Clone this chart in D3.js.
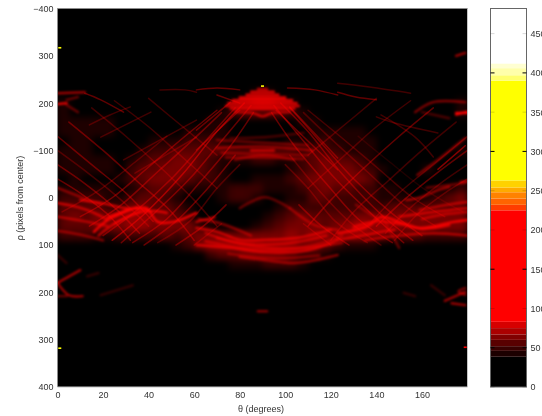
<!DOCTYPE html>
<html>
<head>
<meta charset="utf-8">
<script src="https://cdn.jsdelivr.net/npm/d3@7"></script>
<style>
html, body { margin: 0; background: #fff; overflow: hidden; }
text { font-family: "Liberation Sans", sans-serif; font-size: 9px; fill: #333; }
.domain { display: none; }
</style>
</head>
<body>
<svg class="chart" width="542" height="416"></svg>
<script>
var thetaTicks = [0, 20, 40, 60, 80, 100, 120, 140, 160];
var rhoTicks = [-400, -300, -200, -100, 0, 100, 200, 300, 400];
var rhoLabels = ["\u2212400", "300", "200", "\u2212100", "0", "100", "200", "300", "400"];
var countTicks = [0, 50, 100, 150, 200, 250, 300, 350, 400, 450];
var countLabels = ["0", "50", "100", "150", "200", "250", "300", "350", "400", "450"];
var strongTicks = [50, 150, 300, 400];

// colorbar bands
var bandEdges = [38.5, 46, 52, 60, 67, 75, 83, 225, 232, 240, 248, 254, 263, 390, 397, 406, 412];
var bandColors = ["#000000", "#1c0000", "#380000", "#590000", "#800000", "#ab0000", "#d60000", "#ff0000",
  "#ff3c00", "#ff6400", "#ff8200", "#ffaa00", "#ffd200", "#ffff00", "#ffff6e", "#ffffaa", "#ffffd2", "#ffffff"];

// haze: one string per rho row, one digit (0-9) per 5 degree column
var hazeRho = [-220, -200, -180, -160, -140, -120, -100, -80, -60, -40, -20, 0, 20, 40, 60, 80, 100, 120, 140];
var hazeLevels = [
  "000000000000000001100000000000000000",
  "100000000000000124421000000000000001",
  "100000000000001233332100000000000001",
  "111110000000011000000110000000000000",
  "111110000001111000000011111000000000",
  "011000001112221000001112111100000000",
  "111000012233333333333232211100000001",
  "111110123344321112211234332100000000",
  "111110233444321000001234443210001000",
  "010001234443221001112344444300000000",
  "111110123321111222111234332211000012",
  "222211233210001221001133222211101234",
  "333322443321000000012222222223333333",
  "343444554432000000123433334444444444",
  "333444554444210001234443456555444444",
  "222112222323444444445455455442332222",
  "000000000012455555555443211100000000",
  "000000000000023344443221000000000000",
  "000000000000000111222100000000000000"
];

// ridges seen in the accumulator: strength, then theta/rho pairs
var streaks = [
  [9, 16,72, 22,47, 29,32, 35,20],
  [9, 22,41, 34,22, 39,22, 44,51, 51,51, 61,32],
  [7, 0,11, 9,20, 16,32, 22,47],
  [5, 0,-21, 19,15],
  [8, 10,5, 20,12, 30,22, 40,25],
  [8, 25,55, 33,35, 42,28, 48,32],
  [7, 18,80, 25,55, 36,30],
  [6, 0,40, 12,50, 22,60],
  [5, 0,70, 10,78, 20,90],
  [7, 61,51, 69,41],
  [7, 61,64, 70,72, 80,89, 91,89, 105,85, 120,68],
  [7, 61,100, 76,106, 91,115, 110,111, 123,89],
  [5, 80,125, 98,136, 104,138, 113,132, 123,121],
  [6, 65,75, 80,96, 100,97, 118,80],
  [5, 70,85, 90,105, 110,103, 125,80],
  [5, 65,92, 85,108, 105,108, 125,95],
  [4, 75,118, 95,128, 115,122],
  [5, 62,45, 72,55, 85,80],
  [4, 80,22, 91,-1, 102,22],
  [5, 102,22, 113,58, 123,68],
  [9, 123,75, 131,68, 137,58, 142,41, 152,54, 159,64, 174,51, 180,47],
  [8, 130,62, 140,50, 150,55, 160,66, 172,58],
  [7, 150,40, 165,30, 180,22],
  [6, 135,90, 150,80, 165,75, 180,80],
  [6, 160,45, 170,35, 180,30],
  [7, 123,89, 135,79, 142,72, 148,68],
  [6, 153,5, 159,0, 167,-16, 172,-23],
  [6, 159,26, 171,15, 180,9],
  [4, 131,15, 140,43],
  [4, 142,37, 150,106],
  [6, 170,218, 179,199],
  [6, 173,223, 179,227],
  [5, 179,191, 176,198, 179,205],
  [2, 152,201, 157,208],
  [2, 164,185, 170,206],
  [6, 0,180, 10,153],
  [6, 0,180, 5,206, 11,208],
  [4, 0,208, 4,208],
  [2, 19,206, 33,185],
  [2, 13,166, 18,159],
  [2, 0,121, 4,138],
  [5, 157,-181, 165,-202, 179,-202],
  [9, 175,-179, 180,-179],
  [9, 175,-176, 180,-182],
  [3, 160,-181, 172,-168],
  [5, 158,-48, 167,-80, 179,-126],
  [4, 162,-21, 179,-31],
  [7, 177,-33, 180,-35],
  [6, 0,-221, 12,-223],
  [9, 0,-198, 4,-200],
  [4, 4,-207, 9,-213],
  [4, 4,-196, 9,-181],
  [4, 70,-122, 110,-111],
  [3, 76,-126, 91,-128, 108,-137],
  [4, 78,-80, 91,-90, 104,-80],
  [6, 175,-300, 179,-306],
  [5, 88,240, 92,240],
  // peak at theta 90
  [9, 75,-200, 105,-200],
  [9, 77,-206, 103,-206],
  [9, 80,-212, 100,-212],
  [9, 83,-218, 97,-218],
  [8, 85,-224, 95,-224],
  [7, 88,-230, 92,-230],
  [8, 74,-194, 106,-194],
  [8, 76,-188, 104,-188],
  [7, 78,-181, 86,-179, 90,-172, 94,-179, 102,-181],
  // band over the second hole
  [5, 70,-105, 90,-108, 112,-100],
  [4, 72,-95, 90,-92, 110,-90],
  [4, 74,-85, 90,-85, 108,-82],
  [7, 85,-100, 95,-100]
];

// thin cross-hatching, same layout as streaks
var hatch = [
  [3, 20,80, 34,30, 50,-40, 65,-120, 78,-190],
  [4, 24,90, 38,35, 55,-50, 70,-140, 82,-200],
  [3, 28,95, 42,35, 58,-40, 72,-120, 85,-195],
  [3, 14,60, 28,15, 44,-55, 60,-125, 72,-180],
  [3, 10,40, 24,0, 40,-65, 56,-130, 70,-185],
  [3, 33,95, 48,45, 62,-30, 76,-110, 86,-180],
  [3, 38,100, 52,50, 66,-20, 78,-90],
  [2, 44,95, 58,50, 70,-20, 80,-70],
  [3, 52,100, 64,60, 74,15],
  [2, 60,100, 72,55],
  [2, 2,30, 18,-15, 34,-75, 48,-130],
  [2, 29,-80, 61,-164],
  [2, 34,-52, 61,-128],
  [3, 160,80, 146,30, 130,-40, 115,-120, 102,-190],
  [3, 156,90, 142,35, 125,-50, 110,-140, 98,-200],
  [3, 152,95, 138,35, 122,-40, 108,-120, 95,-195],
  [2, 166,60, 152,15, 136,-55, 120,-125, 108,-180],
  [2, 170,40, 156,0, 140,-65, 124,-130, 110,-185],
  [3, 147,95, 132,45, 118,-30, 104,-110, 94,-180],
  [2, 142,100, 128,50, 114,-20, 102,-90],
  [2, 136,95, 122,50, 110,-20, 100,-70],
  [3, 128,100, 116,60, 106,15],
  [2, 120,100, 108,55],
  [1, 178,30, 162,-15, 146,-75, 132,-130],
  [3, 0,-130, 15,-70, 30,-10, 42,50],
  [2, 0,-100, 14,-50, 28,5, 40,60],
  [3, 0,-70, 12,-30, 26,25, 36,75],
  [3, 0,-40, 10,-10, 22,35, 32,90],
  [3, 5,-160, 20,-100, 35,-35, 50,30, 60,90],
  [2, 15,-190, 30,-130, 45,-65, 60,5, 70,60],
  [2, 25,-205, 40,-150, 55,-85, 70,-20],
  [2, 40,-210, 55,-150, 70,-90],
  [2, 180,-130, 165,-70, 150,-10, 138,50],
  [3, 180,-100, 166,-50, 152,5, 140,60],
  [2, 180,-70, 168,-30, 154,25, 144,75],
  [2, 180,-40, 170,-10, 158,35, 148,90],
  [2, 175,-160, 160,-100, 145,-35, 130,30, 120,90],
  [3, 165,-190, 150,-130, 135,-65, 120,5, 110,60],
  [2, 155,-205, 140,-150, 125,-85, 110,-20],
  [2, 140,-210, 125,-150, 110,-90],
  [4, 167,-60, 179,-110],
  [3, 123,-223, 131,-213, 140,-207],
  [2, 123,-242, 137,-234, 155,-221],
  [2, 140,-171, 148,-158, 167,-137],
  [2, 142,-175, 157,-128, 165,-86],
  [3, 12,-221, 19,-207, 29,-181],
  [2, 14,-154, 23,-175, 32,-192],
  [2, 19,-128, 41,-181],
  [2, 45,-228, 56,-228, 61,-223],
  [3, 61,-228, 70,-232, 80,-228],
  [3, 70,-217, 80,-200],
  [3, 101,-232, 113,-228, 123,-217],
  [3, 61,-143, 76,-202],
  [3, 61,-101, 80,-185],
  [3, 96,-185, 123,-59],
  [3, 102,-192, 123,-84]
];

// small hot spots: theta, rho, count
var spots = [
  [90, -236, 300],
  [1, -317, 270],
  [1, 318, 280],
  [179, 316, 130]
];

var margin = {top: 8.5, left: 57.5, bottom: 29, right: 75},
  width = 410,
  height = 378.5,
  barLeft = 490.5,
  barWidth = 36;

var x = d3.scaleLinear().domain([0, 180]).range([0, width]);
var y = d3.scaleLinear().domain([-400, 400]).range([0, height]);
var c = d3.scaleLinear().domain([0, 482]).range([height, 0]);
var color = d3.scaleThreshold().domain(bandEdges).range(bandColors);

var svg = d3.select(".chart");
var defs = svg.append("defs");

function blur(id, dev) {
  defs.append("filter").attr("id", id)
    .attr("x", "-10%").attr("y", "-10%").attr("width", "120%").attr("height", "120%")
    .append("feGaussianBlur").attr("stdDeviation", dev);
}
blur("hazeBlur", 3.2);
blur("lineBlur", 1);
blur("hatchBlur", 0.7);
blur("textBlur", 0.45);
blur("spotBlur", 0.4);

defs.append("clipPath").attr("id", "plotClip")
  .append("rect").attr("width", width).attr("height", height);

var chart = svg.append("g")
  .attr("transform", "translate(" + margin.left + "," + margin.top + ")");

chart.append("rect").attr("width", width).attr("height", height).attr("fill", "#000");

var plot = chart.append("g").attr("clip-path", "url(#plotClip)").style("isolation", "isolate");

var cellW = x(5) - x(0), cellH = y(20) - y(0);
var haze = plot.append("g").attr("filter", "url(#hazeBlur)");
hazeLevels.forEach(function(row, j) {
  haze.selectAll(null)
    .data(row.split(""))
    .enter().append("rect")
    .attr("x", function(d, i) { return x(i * 5); })
    .attr("y", y(hazeRho[j] - 10))
    .attr("width", cellW + 0.5)
    .attr("height", cellH + 0.5)
    .attr("fill", "#f00")
    .attr("opacity", function(d) { return +d / 9; });
});

var line = d3.line()
  .curve(d3.curveCatmullRom)
  .x(function(d) { return x(d[0]); })
  .y(function(d) { return y(d[1]); });

function points(s) {
  var out = [];
  for (var i = 1; i < s.length; i += 2) out.push([s[i], s[i + 1]]);
  return out;
}

function drawLines(data, filter, w, full) {
  plot.append("g").attr("filter", "url(#" + filter + ")")
    .style("mix-blend-mode", "screen")
    .selectAll("path")
    .data(data)
    .enter().append("path")
    .attr("d", function(d) { return line(points(d)); })
    .attr("fill", "none")
    .attr("stroke", "#f00")
    .attr("stroke-width", w)
    .attr("stroke-linecap", "round")
    .attr("stroke-opacity", function(d) { return d[0] / full; })
    .style("mix-blend-mode", "screen");
}
drawLines(hatch, "hatchBlur", 1.5, 8);
drawLines(streaks, "lineBlur", 2.4, 10);

plot.append("g").attr("filter", "url(#spotBlur)")
  .selectAll("rect")
  .data(spots)
  .enter().append("rect")
  .attr("x", function(d) { return x(d[0]) - 1.5; })
  .attr("y", function(d) { return y(d[1]) - 0.8; })
  .attr("width", 3)
  .attr("height", 1.6)
  .attr("fill", function(d) { return color(d[2]); });

// frame
chart.append("path").attr("d", "M0," + height + "V0H" + width).attr("fill", "none").attr("stroke", "#8c8c8c");
chart.append("path").attr("d", "M" + width + ",0V" + height + "H0").attr("fill", "none").attr("stroke", "#c4c4c4");

var xAxis = d3.axisBottom(x).tickValues(thetaTicks).tickSize(0).tickPadding(5);
var yAxis = d3.axisLeft(y).tickValues(rhoTicks).tickSize(0).tickPadding(4)
  .tickFormat(function(d, i) { return rhoLabels[i]; });

var labels = svg.append("g").attr("filter", "url(#textBlur)");

labels.append("g")
  .attr("transform", "translate(" + margin.left + "," + (margin.top + height) + ")")
  .call(xAxis);
labels.append("g")
  .attr("transform", "translate(" + margin.left + "," + margin.top + ")")
  .call(yAxis);

labels.append("text")
  .attr("x", 261).attr("y", 412)
  .attr("text-anchor", "middle")
  .text("\u03b8 (degrees)");
labels.append("text")
  .attr("transform", "translate(23,198) rotate(-90)")
  .attr("text-anchor", "middle")
  .text("\u03c1 (pixels from center)");

// colorbar
var bar = svg.append("g")
  .attr("transform", "translate(" + barLeft + "," + margin.top + ")");

var bandTops = [0].concat(bandEdges);
bar.selectAll("rect")
  .data(bandColors)
  .enter().append("rect")
  .attr("x", 0)
  .attr("width", barWidth)
  .attr("y", function(d, i) { return c(i < bandEdges.length ? bandEdges[i] : 482); })
  .attr("height", function(d, i) {
    return c(bandTops[i]) - c(i < bandEdges.length ? bandEdges[i] : 482);
  })
  .attr("fill", function(d) { return d; });

bar.append("rect")
  .attr("width", barWidth).attr("height", height)
  .attr("fill", "none").attr("stroke", "#666");

var barTicks = bar.selectAll(".bar-tick")
  .data(countTicks)
  .enter().append("g")
  .attr("class", "bar-tick")
  .attr("transform", function(d) { return "translate(0," + c(d) + ")"; })
  .attr("opacity", function(d) { return strongTicks.indexOf(d) >= 0 ? 1 : 0.15; });
barTicks.append("line").attr("x2", 4).attr("stroke", "#000");
barTicks.append("line").attr("x1", barWidth - 4).attr("x2", barWidth).attr("stroke", "#000");

var cAxis = d3.axisRight(c).tickValues(countTicks).tickSize(0).tickPadding(4)
  .tickFormat(function(d, i) { return countLabels[i]; });
labels.append("g")
  .attr("transform", "translate(" + (barLeft + barWidth) + "," + margin.top + ")")
  .call(cAxis);
</script>
</body>
</html>
